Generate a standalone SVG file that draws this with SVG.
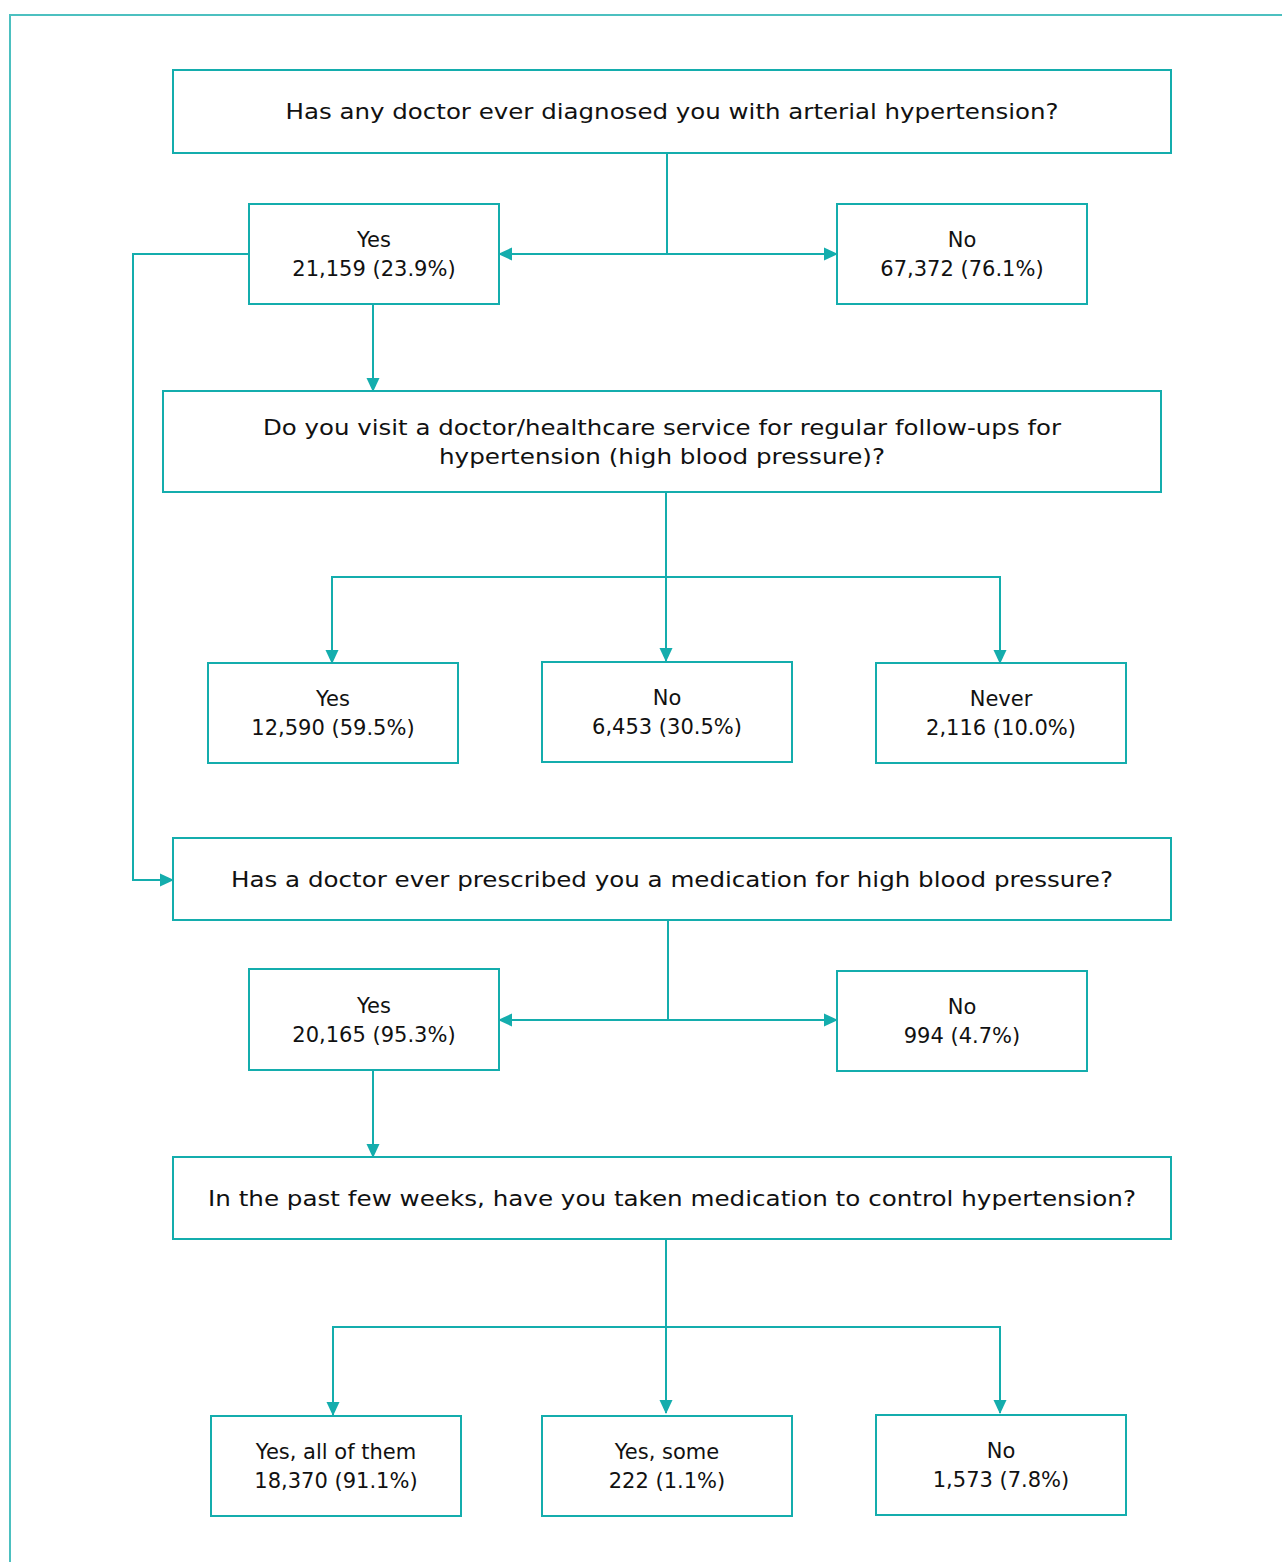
<svg xmlns="http://www.w3.org/2000/svg" width="1282" height="1562" viewBox="0 0 1282 1562">
<style>
.box{fill:#fff;stroke:#14adad;stroke-width:2}
.ln{fill:none;stroke:#14adad;stroke-width:2}
text{font-family:"DejaVu Sans","Open Sans",sans-serif;font-size:21px;fill:#111;text-anchor:middle}
text.q{font-size:22px}
</style>
<defs>
<marker id="ah" markerWidth="14" markerHeight="14" refX="13" refY="7" orient="auto" markerUnits="userSpaceOnUse">
<path d="M0,0.5 L14,7 L0,13.5 Z" fill="#14adad"/>
</marker>
</defs>
<rect x="0" y="0" width="1282" height="1562" fill="#fff"/>
<path d="M10,1562 V15 H1282" fill="none" stroke="#4cc0c0" stroke-width="2"/>
<g id="connectors">
<path class="ln" d="M667,153 V254"/>
<path class="ln" d="M667,254 H499" marker-end="url(#ah)"/>
<path class="ln" d="M667,254 H837" marker-end="url(#ah)"/>
<path class="ln" d="M249,254 H133 V880 H173" marker-end="url(#ah)"/>
<path class="ln" d="M373,304 V391" marker-end="url(#ah)"/>
<path class="ln" d="M666,492 V661" marker-end="url(#ah)"/>
<path class="ln" d="M332,663 V577 H1000 V663" marker-end="url(#ah)"/>
<path class="ln" d="M1000,663 V577 H332 V663" marker-end="url(#ah)"/>
<path class="ln" d="M668,920 V1020"/>
<path class="ln" d="M668,1020 H499" marker-end="url(#ah)"/>
<path class="ln" d="M668,1020 H837" marker-end="url(#ah)"/>
<path class="ln" d="M373,1070 V1157" marker-end="url(#ah)"/>
<path class="ln" d="M666,1239 V1413" marker-end="url(#ah)"/>
<path class="ln" d="M333,1415 V1327 H1000 V1413" marker-end="url(#ah)"/>
<path class="ln" d="M1000,1413 V1327 H333 V1415" marker-end="url(#ah)"/>
</g>
<g id="q1"><rect class="box" x="173" y="70" width="998" height="83"/><text class="q" x="672" y="119" textLength="773" lengthAdjust="spacingAndGlyphs">Has any doctor ever diagnosed you with arterial hypertension?</text></g>
<g id="yes1"><rect class="box" x="249" y="204" width="250" height="100"/><text x="374" y="247">Yes</text><text x="374" y="276">21,159 (23.9%)</text></g>
<g id="no1"><rect class="box" x="837" y="204" width="250" height="100"/><text x="962" y="247">No</text><text x="962" y="276">67,372 (76.1%)</text></g>
<g id="q2"><rect class="box" x="163" y="391" width="998" height="101"/><text class="q" x="662" y="435" textLength="798" lengthAdjust="spacingAndGlyphs">Do you visit a doctor/healthcare service for regular follow-ups for</text><text class="q" x="662" y="464" textLength="446" lengthAdjust="spacingAndGlyphs">hypertension (high blood pressure)?</text></g>
<g id="yes2"><rect class="box" x="208" y="663" width="250" height="100"/><text x="333" y="706">Yes</text><text x="333" y="735">12,590 (59.5%)</text></g>
<g id="no2"><rect class="box" x="542" y="662" width="250" height="100"/><text x="667" y="705">No</text><text x="667" y="734">6,453 (30.5%)</text></g>
<g id="never2"><rect class="box" x="876" y="663" width="250" height="100"/><text x="1001" y="706">Never</text><text x="1001" y="735">2,116 (10.0%)</text></g>
<g id="q3"><rect class="box" x="173" y="838" width="998" height="82"/><text class="q" x="672" y="887" textLength="882" lengthAdjust="spacingAndGlyphs">Has a doctor ever prescribed you a medication for high blood pressure?</text></g>
<g id="yes3"><rect class="box" x="249" y="969" width="250" height="101"/><text x="374" y="1013">Yes</text><text x="374" y="1042">20,165 (95.3%)</text></g>
<g id="no3"><rect class="box" x="837" y="971" width="250" height="100"/><text x="962" y="1014">No</text><text x="962" y="1043">994 (4.7%)</text></g>
<g id="q4"><rect class="box" x="173" y="1157" width="998" height="82"/><text class="q" x="672" y="1206" textLength="928" lengthAdjust="spacingAndGlyphs">In the past few weeks, have you taken medication to control hypertension?</text></g>
<g id="yesall"><rect class="box" x="211" y="1416" width="250" height="100"/><text x="336" y="1459">Yes, all of them</text><text x="336" y="1488">18,370 (91.1%)</text></g>
<g id="yessome"><rect class="box" x="542" y="1416" width="250" height="100"/><text x="667" y="1459">Yes, some</text><text x="667" y="1488">222 (1.1%)</text></g>
<g id="no4"><rect class="box" x="876" y="1415" width="250" height="100"/><text x="1001" y="1458">No</text><text x="1001" y="1487">1,573 (7.8%)</text></g>
</svg>
